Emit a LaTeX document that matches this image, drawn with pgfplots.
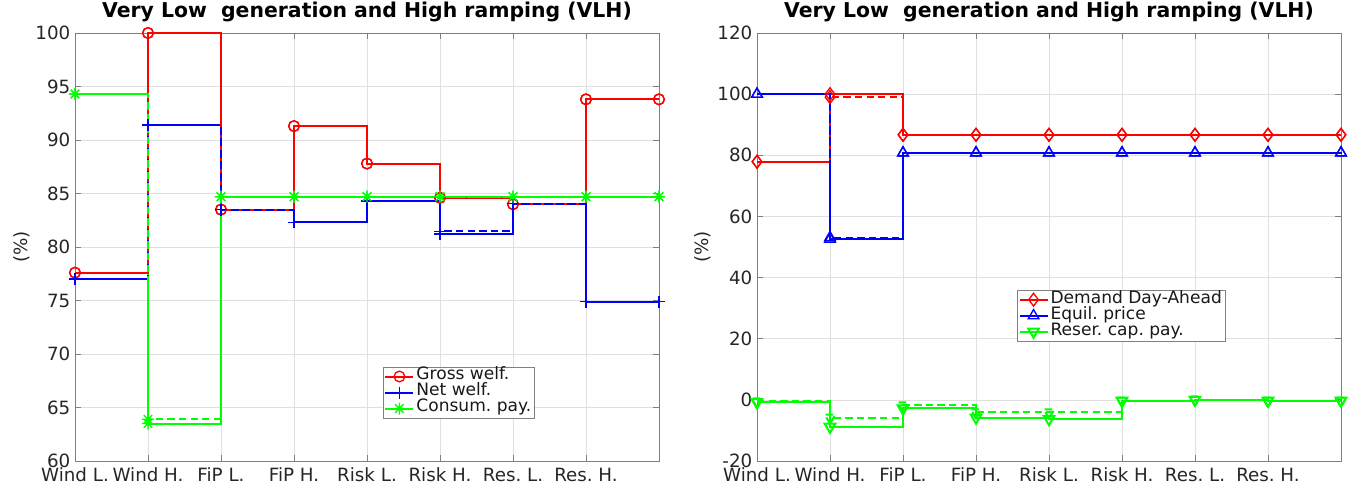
\documentclass[border=0pt]{standalone}
\usepackage{fontspec}
\setmainfont{DejaVu Sans}
\usepackage{pgfplots}
\usepackage{pgfplotstable}
\pgfplotsset{compat=1.18}
\frenchspacing

\pgfdeclareplotmark{mstar}{%
 \pgfpathmoveto{\pgfqpoint{0pt}{\pgfplotmarksize}}\pgfpathlineto{\pgfqpoint{0pt}{-\pgfplotmarksize}}%
 \pgfpathmoveto{\pgfqpoint{\pgfplotmarksize}{0pt}}\pgfpathlineto{\pgfqpoint{-\pgfplotmarksize}{0pt}}%
 \pgfpathmoveto{\pgfqpoint{.707\pgfplotmarksize}{.707\pgfplotmarksize}}\pgfpathlineto{\pgfqpoint{-.707\pgfplotmarksize}{-.707\pgfplotmarksize}}%
 \pgfpathmoveto{\pgfqpoint{.707\pgfplotmarksize}{-.707\pgfplotmarksize}}\pgfpathlineto{\pgfqpoint{-.707\pgfplotmarksize}{.707\pgfplotmarksize}}%
 \pgfusepathqstroke}

\pgfplotstableread{
x  gs    gd    ns    nd    cs    cd
1  77.6  77.6  77.0  77.0  94.3  94.3
2  100   100   91.4  91.4  63.5  63.9
3  83.5  83.5  83.5  83.5  84.7  84.7
4  91.3  91.3  82.3  82.3  84.7  84.7
5  87.8  87.8  84.3  84.3  84.7  84.7
6  84.6  84.6  81.2  81.45 84.7  84.7
7  84.0  84.0  84.05 84.05 84.7  84.7
8  93.8  93.8  74.9  74.9  84.7  84.7
9  93.8  93.8  74.9  74.9  84.7  84.7
}\tabL

\pgfplotstableread{
x  ds    dd    es    ed    rs    rd
1  77.9  77.9  100   100   -0.8  -0.5
2  100   99.0  52.6  53.1  -8.8  -5.8
3  86.7  86.7  80.8  80.8  -2.8  -1.8
4  86.7  86.7  80.8  80.8  -5.8  -4.1
5  86.7  86.7  80.8  80.8  -6.3  -4.1
6  86.7  86.7  80.8  80.8  -0.3  -0.3
7  86.7  86.7  80.8  80.8  0.0   0.1
8  86.7  86.7  80.8  80.8  -0.3  -0.3
9  86.7  86.7  80.8  80.8  -0.3  -0.3
}\tabR

\definecolor{txt}{gray}{0.15}
\pgfplotsset{
 mstyle/.style={
  scale only axis, width=438pt, height=321pt,
  xmin=1, xmax=9, xtick={1,...,9},
  xticklabels={Wind L.,Wind H.,FiP L.,FiP H.,Risk L.,Risk H.,Res. L.,Res. H.,{}},
  grid=major, grid style={color=black!12, line width=0.5pt},
  axis line style={black!50, line width=0.6pt},
  tick style={black!50, line width=0.6pt},
  major tick length=4.5pt, tick pos=both, tick align=inside,
  tick label style={font=\fontsize{13.7}{16}\selectfont, text=txt},
  xticklabel style={yshift=-1.8pt},
  /pgf/number format/assume math mode=true,
  title style={font=\bfseries\fontsize{15.3}{18}\selectfont, text=black, at={(axis description cs:0.5,1)}, anchor=base, yshift=5.25pt},
  ylabel={(\%)},
  label style={font=\fontsize{13.7}{16}\selectfont, text=txt},
  clip=false,
  legend cell align=left,
  legend image code/.code={\draw[mark repeat=2,mark phase=2,#1] plot coordinates {(0pt,0pt)(10.5pt,0pt)(21pt,0pt)};},
  legend style={draw=black!50, line width=0.5pt, fill=white,
    font=\fontsize{12.8}{15}\selectfont, text=black!90,
    inner xsep=1pt, inner ysep=1pt, row sep=0pt,
    nodes={inner xsep=1.5pt, inner ysep=1pt, text height=0.75em, text depth=0.25em}},
 },
 sline/.style={const plot, line width=1.5pt, mark options={solid, line width=1pt}},
 dline/.style={const plot, line width=1.5pt, dash pattern=on 5.5pt off 3.2pt, mark options={solid, line width=1pt}, forget plot},
}

\begin{document}
\begin{tikzpicture}
\path[use as bounding box] (0,0) rectangle (1011.75pt,366pt);

\begin{axis}[mstyle, at={(56.25pt,20.25pt)}, anchor=south west,
  ymin=60, ymax=100, ytick={60,65,...,100},
  title={Very Low~~generation and High ramping (VLH)},
  ylabel style={at={(axis description cs:-0.0908,0.5)}, anchor=center},
  legend style={at={(0.527,0.22)}, anchor=north west}]
\addplot[sline, red, mark=o, mark size=4pt] table[x=x,y=gs] {\tabL};
\addlegendentry{Gross welf.}
\addplot[sline, blue, mark=+, mark size=4.5pt] table[x=x,y=ns] {\tabL};
\addlegendentry{Net welf.}
\addplot[sline, green, mark=mstar, mark size=4.5pt] table[x=x,y=cs] {\tabL};
\addlegendentry{Consum. pay.}
\addplot[dline, red, mark=o, mark size=4pt] table[x=x,y=gd] {\tabL};
\addplot[dline, blue, mark=+, mark size=4.5pt] table[x=x,y=nd] {\tabL};
\addplot[dline, green, mark=mstar, mark size=4.5pt] table[x=x,y=cd] {\tabL};
\end{axis}

\begin{axis}[mstyle, at={(567.75pt,20.25pt)}, anchor=south west,
  ymin=-20, ymax=120, ytick={-20,0,...,120},
  title={Very Low~~generation and High ramping (VLH)},
  ylabel style={at={(axis description cs:-0.0925,0.5)}, anchor=center},
  legend style={at={(0.445,0.3995)}, anchor=north west}]
\addplot[sline, red, mark=diamond, mark size=4.8pt] table[x=x,y=ds] {\tabR};
\addlegendentry{Demand Day-Ahead}
\addplot[sline, blue, mark=triangle, mark size=4.6pt] table[x=x,y=es] {\tabR};
\addlegendentry{Equil. price}
\addplot[sline, green, mark=triangle, mark size=4.6pt, mark options={rotate=180}] table[x=x,y=rs] {\tabR};
\addlegendentry{Reser. cap. pay.}
\addplot[dline, red, mark=diamond, mark size=4.8pt] table[x=x,y=dd] {\tabR};
\addplot[dline, blue, mark=triangle, mark size=4.6pt] table[x=x,y=ed] {\tabR};
\addplot[dline, green, mark=triangle, mark size=4.6pt, mark options={rotate=180}] table[x=x,y=rd] {\tabR};
\end{axis}
\end{tikzpicture}
\end{document}
